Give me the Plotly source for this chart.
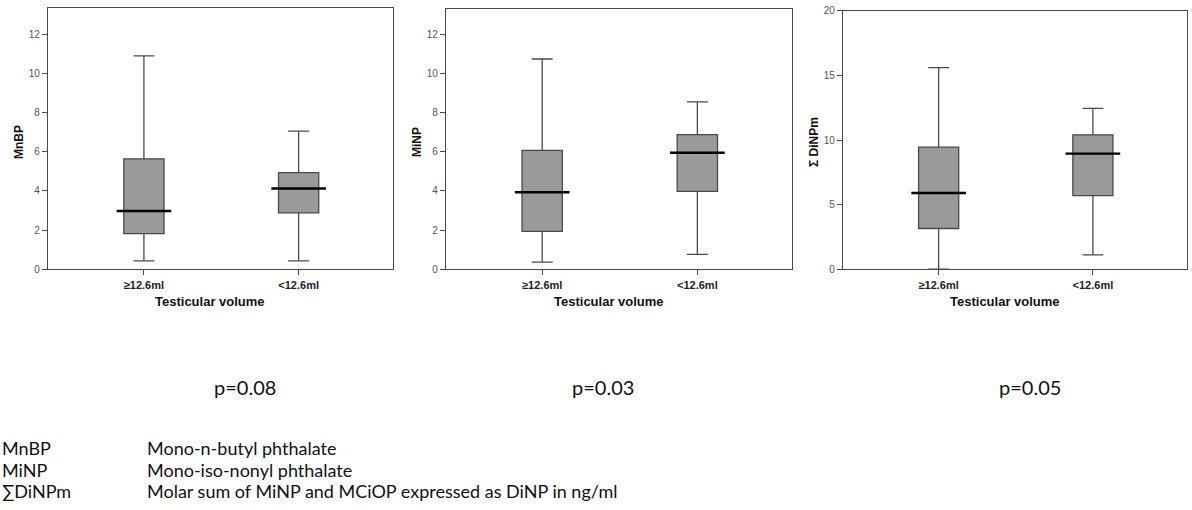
import plotly.graph_objects as go

# ---- data ----
groups = ["≥12.6ml", "<12.6ml"]

mnbp_low = [0.42, 0.42]
mnbp_q1 = [1.82, 2.88]
mnbp_med = [2.97, 4.12]
mnbp_q3 = [5.64, 4.93]
mnbp_high = [10.9, 7.06]

minp_low = [0.36, 0.76]
minp_q1 = [1.93, 3.98]
minp_med = [3.93, 5.95]
minp_q3 = [6.07, 6.88]
minp_high = [10.74, 8.55]

dinp_low = [0.0, 1.1]
dinp_q1 = [3.15, 5.7]
dinp_med = [5.9, 8.95]
dinp_q3 = [9.45, 10.4]
dinp_high = [15.6, 12.45]

y_titles = ["MnBP", "MiNP", "\u03a3 DiNPm"]
y_ranges = [[0, 13.35], [0, 13.3], [0, 20]]
y_dticks = [2, 2, 5]
p_values = ["p=0.08", "p=0.03", "p=0.05"]

abbrevs = ["MnBP", "MiNP", "\u2211DiNPm"]
meanings = ["Mono-n-butyl phthalate",
            "Mono-iso-nonyl phthalate",
            "Molar sum of MiNP and MCiOP expressed as DiNP in ng/ml"]

W, H = 1192, 510


def px(x):
    return x / W


def py(y):
    return 1 - y / H


# panel frames in page pixels (left, right, top, bottom)
frames = [(48, 393, 3, 270), (446, 792, 4, 270), (843, 1187, 6, 270)]

AX_COL = "#4a4a4a"
BOX_FILL = "#9a9a9a"
TXT_FONT = "Lato, Open Sans, sans-serif"

fig = go.Figure()

series = [
    (mnbp_low, mnbp_q1, mnbp_med, mnbp_q3, mnbp_high),
    (minp_low, minp_q1, minp_med, minp_q3, minp_high),
    (dinp_low, dinp_q1, dinp_med, dinp_q3, dinp_high),
]

for i, (lo, q1, med, q3, hi) in enumerate(series):
    xa = "x" if i == 0 else f"x{i + 1}"
    ya = "y" if i == 0 else f"y{i + 1}"
    fig.add_trace(go.Box(
        x=groups, q1=q1, median=med, q3=q3,
        lowerfence=lo, upperfence=hi,
        width=0.26, whiskerwidth=0.52,
        fillcolor=BOX_FILL,
        line=dict(color=AX_COL, width=1.3),
        boxpoints=False, hoverinfo="skip",
        showlegend=False, xaxis=xa, yaxis=ya,
    ))
    # heavier black median bar, like SPSS
    fig.add_trace(go.Scatter(
        x=groups, y=med, mode="markers",
        marker=dict(symbol="line-ew", size=39,
                    line=dict(color="black", width=2.4)),
        hoverinfo="skip", showlegend=False, xaxis=xa, yaxis=ya,
    ))

layout = dict(
    width=W, height=H,
    margin=dict(l=0, r=0, t=0, b=0),
    paper_bgcolor="white", plot_bgcolor="white",
    font=dict(family="Liberation Sans, Arial, sans-serif", color="#222"),
)

annotations = []
for i, (l, r, t, b) in enumerate(frames):
    n = "" if i == 0 else str(i + 1)
    layout[f"xaxis{n}"] = dict(
        domain=[px(l), px(r)], anchor=f"y{n}",
        type="category", range=[-0.62, 1.61],
        showline=True, mirror=True, linecolor=AX_COL, linewidth=1.3,
        ticks="outside", ticklen=5, tickcolor=AX_COL, tickwidth=1.2,
        showgrid=False, zeroline=False,
        tickfont=dict(size=11, color="#222"),
        tickprefix="<b>", ticksuffix="</b>",
    )
    layout[f"yaxis{n}"] = dict(
        domain=[py(b), py(t)], anchor=f"x{n}",
        range=y_ranges[i], dtick=y_dticks[i],
        showline=True, mirror=True, linecolor=AX_COL, linewidth=1.3,
        ticks="outside", ticklen=5, tickcolor=AX_COL, tickwidth=1.2,
        showgrid=False, zeroline=False,
        tickfont=dict(size=10, color="#555"),
    )
    # y axis title
    annotations.append(dict(
        text=f"<b>{y_titles[i]}</b>", textangle=-90,
        x=px(l - 29), y=py(140), xref="paper", yref="paper",
        xanchor="center", yanchor="middle",
        showarrow=False, font=dict(size=12, color="#111"),
    ))
    # x axis title
    annotations.append(dict(
        text="<b>Testicular volume</b>",
        x=px(l + (r - l) * 0.47), y=py(303),
        xref="paper", yref="paper", xanchor="center", yanchor="middle",
        showarrow=False, font=dict(size=13, color="#111"),
    ))

p_x = [245, 603, 1030]
for pxx, ptxt in zip(p_x, p_values):
    annotations.append(dict(
        text=ptxt, x=px(pxx), y=py(390), xref="paper", yref="paper",
        xanchor="center", yanchor="middle", showarrow=False,
        font=dict(family=TXT_FONT, size=20, color="#111"),
    ))

# rows of the abbreviation key, spaced so their text boxes just clear each other
row_y = [453, 475, 497]
for yy, ab, mean in zip(row_y, abbrevs, meanings):
    annotations.append(dict(
        text=ab, x=px(1), y=py(yy), xref="paper", yref="paper",
        xanchor="left", yanchor="middle", showarrow=False, borderpad=0,
        font=dict(family=TXT_FONT, size=18, color="#111"),
    ))
    annotations.append(dict(
        text=mean, x=px(146), y=py(yy), xref="paper", yref="paper",
        xanchor="left", yanchor="middle", showarrow=False, borderpad=0,
        font=dict(family=TXT_FONT, size=18, color="#111"),
    ))

layout["annotations"] = annotations
fig.update_layout(**layout)

# drop the browser's default 8px body margin so the figure fills the window,
# and keep the modebar out of the picture
fig.write_html("out.html", config={"displayModeBar": False},
               post_script="document.body.style.margin='0px';")
